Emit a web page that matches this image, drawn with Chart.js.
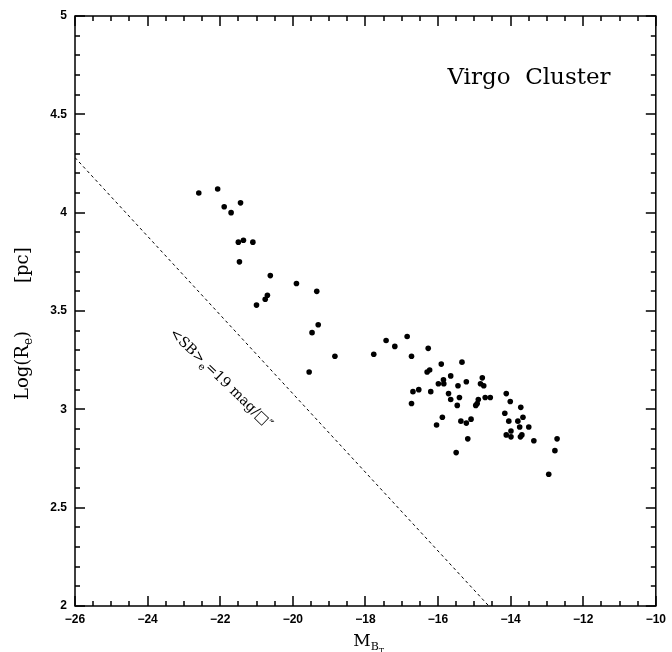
<!DOCTYPE html>
<html>
<head>
<meta charset="utf-8">
<script src="https://cdn.jsdelivr.net/npm/chart.js@4"></script>
<style>
  html, body { margin: 0; padding: 0; background: #fff; }
</style>
</head>
<body>
<canvas id="virgo" width="672" height="652"></canvas>
<script>
// Virgo Cluster: absolute magnitude vs effective radius

// galaxies (M_BT, log Re)
const galaxyMag = [
  -22.59, -22.07, -21.89, -21.70, -21.44, -21.50, -21.36, -21.10, -21.47, -20.62,
  -19.90, -19.34, -20.70, -20.76, -21.00, -19.30, -19.47, -18.84, -19.55, -17.77,
  -17.43, -17.19, -16.85, -16.27, -16.73, -15.91, -15.34, -16.30, -16.23, -15.99,
  -15.85, -15.84, -15.65, -15.45, -15.22, -14.78, -14.83, -14.74, -16.69, -16.53,
  -16.20, -15.71, -15.65, -15.41, -15.47, -14.96, -14.92, -14.89, -14.70, -14.56,
  -16.73, -15.88, -16.04, -15.37, -15.22, -15.09, -15.18, -15.50, -14.12, -14.01,
  -13.72, -14.16, -14.05, -13.80, -13.66, -13.75, -13.50, -14.12, -13.99, -13.99,
  -13.73, -13.69, -13.36, -12.72, -12.78, -12.95
];
const galaxyLogRe = [
  4.10, 4.12, 4.03, 4.00, 4.05, 3.85, 3.86, 3.85, 3.75, 3.68,
  3.64, 3.60, 3.58, 3.56, 3.53, 3.43, 3.39, 3.27, 3.19, 3.28,
  3.35, 3.32, 3.37, 3.31, 3.27, 3.23, 3.24, 3.19, 3.20, 3.13,
  3.15, 3.13, 3.17, 3.12, 3.14, 3.16, 3.13, 3.12, 3.09, 3.10,
  3.09, 3.08, 3.05, 3.06, 3.02, 3.02, 3.03, 3.05, 3.06, 3.06,
  3.03, 2.96, 2.92, 2.94, 2.93, 2.95, 2.85, 2.78, 3.08, 3.04,
  3.01, 2.98, 2.94, 2.94, 2.96, 2.91, 2.91, 2.87, 2.89, 2.86,
  2.86, 2.87, 2.84, 2.85, 2.79, 2.67
];

// constant surface brightness line <SB>e = 19
const sbLineMag = [-26, -14.6];
const sbLineLogRe = [4.28, 2.0];

// axis ticks
const xTickValues = [-26, -24, -22, -20, -18, -16, -14, -12, -10];
const yTickValues = [2, 2.5, 3, 3.5, 4, 4.5, 5];
const xMinorStep = 0.5;
const yMinorStep = 0.1;

const serif = '"DejaVu Serif", "Liberation Serif", serif';
const sans = '"Liberation Sans", Arial, sans-serif';

// frame, inward ticks and the text labels
const framePlugin = {
  id: 'frame',
  afterDraw(chart) {
    const ctx = chart.ctx;
    const a = chart.chartArea;
    const L = a.left, R = a.right, T = a.top, B = a.bottom;
    const xMin = xTickValues[0], xMax = xTickValues[xTickValues.length - 1];
    const yMin = yTickValues[0], yMax = yTickValues[yTickValues.length - 1];

    ctx.save();
    ctx.setLineDash([]);
    ctx.fillStyle = '#000';
    ctx.strokeStyle = '#000';
    ctx.lineWidth = 1.5;
    ctx.strokeRect(L, T, R - L, B - T);

    // minor / major ticks pointing into the plot
    const nx = Math.round((xMax - xMin) / xMinorStep);
    for (let i = 0; i <= nx; i++) {
      const px = Math.round(L + (R - L) * i / nx);
      const len = (i % 4 === 0) ? 10 : 5;
      ctx.fillRect(px - 0.75, B - len, 1.5, len);
      ctx.fillRect(px - 0.75, T, 1.5, len);
    }
    const ny = Math.round((yMax - yMin) / yMinorStep);
    for (let i = 0; i <= ny; i++) {
      const py = Math.round(B - (B - T) * i / ny);
      const len = (i % 5 === 0) ? 10 : 5;
      ctx.fillRect(L, py - 0.75, len, 1.5);
      ctx.fillRect(R - len, py - 0.75, len, 1.5);
    }

    // title inside the plot
    ctx.font = '23px ' + serif;
    ctx.textAlign = 'center';
    ctx.textBaseline = 'alphabetic';
    ctx.fillText('Virgo  Cluster', 529, 84);

    // x axis title M_BT
    ctx.textAlign = 'left';
    ctx.font = '17px ' + serif;
    const mW = ctx.measureText('M').width;
    const x0 = 368 - (mW + 12) / 2;
    ctx.fillText('M', x0, 646);
    ctx.font = '11px ' + serif;
    ctx.fillText('B', x0 + mW, 650);
    const bW = ctx.measureText('B').width;
    ctx.font = '8px ' + serif;
    ctx.fillText('T', x0 + mW + bW, 653);

    // y axis title Log(Re) [pc]
    ctx.save();
    ctx.translate(28, 400);
    ctx.rotate(-Math.PI / 2);
    ctx.font = '18px ' + serif;
    let cx = 0;
    ctx.fillText('Log(R', cx, 0);
    cx += ctx.measureText('Log(R').width;
    ctx.font = '12px ' + serif;
    ctx.fillText('e', cx, 4);
    cx += ctx.measureText('e').width;
    ctx.font = '18px ' + serif;
    ctx.fillText(')', cx, 0);
    ctx.fillText('[pc]', 117, 0);
    ctx.restore();

    // label along the dashed line
    ctx.save();
    ctx.translate(169, 334);
    ctx.rotate(44 * Math.PI / 180);
    ctx.font = '14px ' + serif;
    cx = 0;
    ctx.fillText('<SB>', cx, 0);
    cx += ctx.measureText('<SB>').width;
    ctx.font = '10px ' + serif;
    ctx.fillText('e', cx, 4);
    cx += ctx.measureText('e').width;
    ctx.font = '14px ' + serif;
    ctx.fillText('=19 mag/\u25A1\u2033', cx, 0);
    ctx.restore();

    ctx.restore();
  }
};

const minusLabel = v => (v < 0 ? '\u2212' + Math.abs(v) : String(v));

new Chart(document.getElementById('virgo'), {
  data: {
    datasets: [
      {
        type: 'scatter',
        data: galaxyMag.map((m, i) => ({ x: m, y: galaxyLogRe[i] })),
        pointRadius: 2.8,
        pointBackgroundColor: '#000',
        pointBorderWidth: 0
      },
      {
        type: 'line',
        data: sbLineMag.map((m, i) => ({ x: m, y: sbLineLogRe[i] })),
        borderColor: '#000',
        borderWidth: 1,
        borderDash: [3, 3],
        pointRadius: 0,
        fill: false
      }
    ]
  },
  options: {
    responsive: false,
    devicePixelRatio: 1,
    animation: false,
    layout: { padding: { top: 16, right: 11, left: 0, bottom: 0 } },
    plugins: {
      legend: { display: false },
      tooltip: { enabled: false }
    },
    scales: {
      x: {
        type: 'linear',
        min: -26,
        max: -10,
        afterBuildTicks: s => { s.ticks = xTickValues.map(v => ({ value: v })); },
        afterFit: s => { s.height = 46; },
        grid: { display: false, drawTicks: false },
        border: { display: false },
        ticks: {
          padding: 6,
          color: '#000',
          font: { family: sans, size: 12, weight: 'bold' },
          callback: minusLabel,
          maxRotation: 0
        }
      },
      y: {
        type: 'linear',
        min: 2,
        max: 5,
        afterBuildTicks: s => { s.ticks = yTickValues.map(v => ({ value: v })); },
        afterFit: s => { s.width = 75; },
        grid: { display: false, drawTicks: false },
        border: { display: false },
        ticks: {
          padding: 8,
          color: '#000',
          font: { family: sans, size: 12, weight: 'bold' },
          callback: v => String(v)
        }
      }
    }
  },
  plugins: [framePlugin]
});
</script>
</body>
</html>
